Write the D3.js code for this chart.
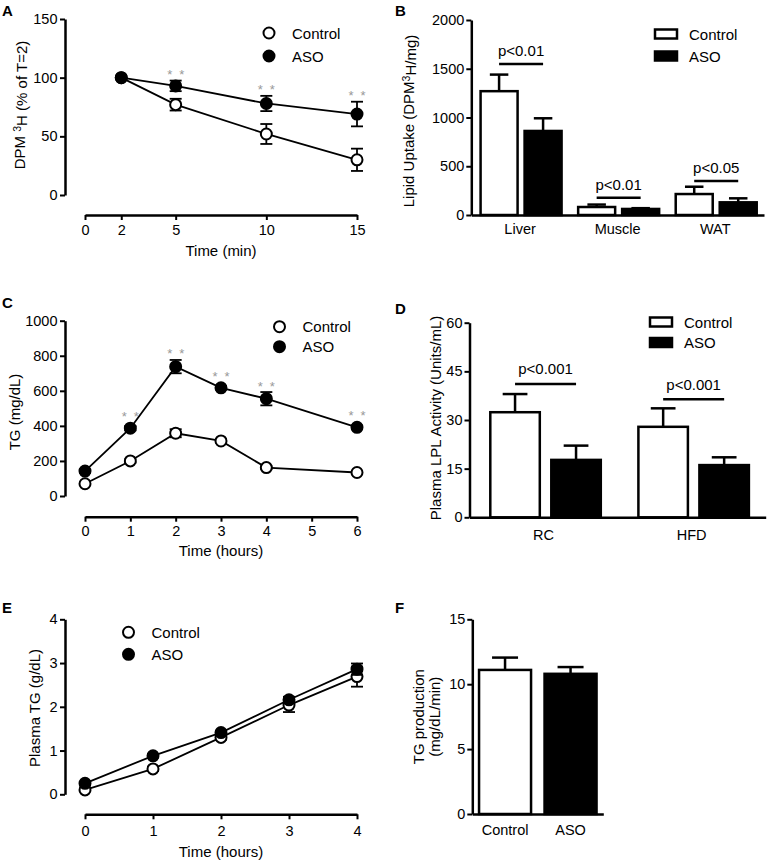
<!DOCTYPE html>
<html><head><meta charset="utf-8">
<script src="https://cdn.jsdelivr.net/npm/d3@7"></script>
<style>
body{margin:0;background:#fff}
svg text{font-family:"Liberation Sans",Arial,Helvetica,sans-serif}
</style>
</head><body>
<svg id="c" width="768" height="862"></svg>
<script>
// ---------- DATA ----------
// Panel A
const aTime = [2, 5, 10, 15];
const aControl = [100, 77, 52, 30];
const aControlErr = [0, 5, 8.5, 9.5];
const aASO = [100, 93, 78, 69];
const aASOErr = [0, 4.5, 6.5, 10.5];
const aStars = [false, true, true, true];
const aXTicks = [0, 2, 5, 10, 15];
const aYTicks = [0, 50, 100, 150];

// Panel B
const bCategories = ["Liver", "Muscle", "WAT"];
const bControl = [1270, 82, 215];
const bControlErr = [170, 25, 75];
const bASO = [862, 62, 130];
const bASOErr = [130, 8, 41];
const bPLabels = ["p<0.01", "p<0.01", "p<0.05"];
const bPLevel = [1550, 178, 350];
const bYTicks = [0, 500, 1000, 1500, 2000];

// Panel C
const cTime = [0, 1, 2, 3, 4, 6];
const cControl = [70, 200, 358, 314, 162, 134];
const cControlErr = [8, 10, 23, 10, 8, 8];
const cASO = [142, 387, 738, 617, 555, 392];
const cASOErr = [10, 12, 38, 10, 38, 10];
const cStars = [false, true, true, true, true, true];
const cXTicks = [0, 1, 2, 3, 4, 5, 6];
const cYTicks = [0, 200, 400, 600, 800, 1000];

// Panel D
const dCategories = ["RC", "HFD"];
const dControl = [32.4, 27.9];
const dControlErr = [5.6, 5.7];
const dASO = [17.7, 16.1];
const dASOErr = [4.4, 2.4];
const dPLabels = ["p<0.001", "p<0.001"];
const dPLevel = [41.1, 36.4];
const dYTicks = [0, 15, 30, 45, 60];

// Panel E
const eTime = [0, 1, 2, 3, 4];
const eControl = [0.10, 0.58, 1.30, 2.04, 2.69];
const eControlErr = [0.03, 0.05, 0.05, 0.16, 0.23];
const eASO = [0.25, 0.88, 1.41, 2.16, 2.86];
const eASOErr = [0.03, 0.04, 0.04, 0.07, 0.13];
const eXTicks = [0, 1, 2, 3, 4];
const eYTicks = [0, 1, 2, 3, 4];

// Panel F
const fCategories = ["Control", "ASO"];
const fValues = [11.1, 10.8];
const fErr = [0.95, 0.52];
const fYTicks = [0, 5, 10, 15];

const seriesNames = ["Control", "ASO"];

// ---------- DRAWING ----------
const svg = d3.select("#c");
const FS = "15px";
const TFS = "14.5px";

function styleAxis(g) {
  g.attr("font-family", null).attr("font-size", null);
  g.selectAll(".domain").attr("stroke", "#000").attr("stroke-width", 2.5);
  g.selectAll(".tick line").attr("stroke", "#000").attr("stroke-width", 2);
  g.selectAll(".tick text").attr("fill", "#000").style("font-size", TFS);
}

function panelLetter(t, x, y) {
  svg.append("text").attr("x", x).attr("y", y).text(t)
    .style("font-size", "15px").style("font-weight", "bold").attr("fill", "#000");
}

function yTitle(parts, cx, cy) {
  const t = svg.append("text").attr("transform", `translate(${cx},${cy}) rotate(-90)`)
    .attr("text-anchor", "middle").attr("dy", "0.35em").style("font-size", FS).attr("fill", "#000");
  parts.forEach(p => {
    if (p.sup) t.append("tspan").text(p.t).attr("dy", "-0.45em").style("font-size", "10.5px");
    else t.append("tspan").text(p.t).attr("dy", p.after ? "0.45em" : null);
  });
  return t;
}

function linePanel(cfg) {
  const x = d3.scaleLinear().domain(cfg.xDomain).range([cfg.xLeft, cfg.xRight]);
  const y = d3.scaleLinear().domain(cfg.yDomain).range([cfg.yBottom, cfg.yTop]);
  const r = 5.5;
  svg.append("g").attr("transform", `translate(${cfg.yAxisX},0)`)
    .call(d3.axisLeft(y).tickValues(cfg.yTicks).tickSize(5).tickSizeOuter(0).tickPadding(2.5).tickFormat(d => String(d)))
    .call(styleAxis);
  svg.append("g").attr("transform", `translate(0,${cfg.xAxisY})`)
    .call(d3.axisBottom(x).tickValues(cfg.xTicks).tickSize(5).tickSizeOuter(0).tickPadding(cfg.xPad).tickFormat(d => String(d)))
    .call(styleAxis);

  const fills = ["#fff", "#000"];
  const line = d3.line().x((d, i) => x(cfg.xs[i])).y(d => y(d));
  cfg.series.forEach(s => {
    svg.append("path").datum(s.vals).attr("d", line)
      .attr("fill", "none").attr("stroke", "#000").attr("stroke-width", 1.8);
  });
  cfg.series.forEach((s, si) => {
    const g = svg.append("g");
    s.vals.forEach((v, i) => {
      const e = s.errs[i];
      if (e > 0) {
        const cx = x(cfg.xs[i]);
        g.append("line").attr("x1", cx).attr("x2", cx).attr("y1", y(v - e)).attr("y2", y(v + e))
          .attr("stroke", "#000").attr("stroke-width", 1.8);
        [v - e, v + e].forEach(yy => g.append("line").attr("x1", cx - 6).attr("x2", cx + 6)
          .attr("y1", y(yy)).attr("y2", y(yy)).attr("stroke", "#000").attr("stroke-width", 1.8));
      }
    });
    g.selectAll("circle").data(s.vals).enter().append("circle")
      .attr("cx", (d, i) => x(cfg.xs[i])).attr("cy", d => y(d)).attr("r", r)
      .attr("fill", fills[si]).attr("stroke", "#000").attr("stroke-width", 2);
  });
  if (cfg.stars) {
    const s = cfg.series[1];
    cfg.stars.forEach((st, i) => {
      if (!st) return;
      const cx = x(cfg.xs[i]);
      const top = Math.min(y(s.vals[i] + s.errs[i]), y(s.vals[i]) - r);
      const cy = top - 9;
      [-6, 6].forEach(dx => svg.append("text").attr("x", cx + dx).attr("y", cy + 7.5)
        .attr("text-anchor", "middle").style("font-size", "13px").attr("fill", "#999").text("*"));
    });
  }
  seriesNames.forEach((n, i) => {
    const ly = cfg.legY + i * cfg.legDy;
    svg.append("circle").attr("cx", cfg.legX).attr("cy", ly).attr("r", r)
      .attr("fill", fills[i]).attr("stroke", "#000").attr("stroke-width", 2);
    svg.append("text").attr("x", cfg.legX + 23).attr("y", ly + 5.5).text(n).style("font-size", FS).attr("fill", "#000");
  });
  svg.append("text").attr("x", (cfg.xLeft + cfg.xRight) / 2).attr("y", cfg.xTitleY)
    .attr("text-anchor", "middle").style("font-size", FS).text(cfg.xTitle);
}

function barPanel(cfg) {
  const x = d3.scaleBand().domain(cfg.categories).range([cfg.xLeft, cfg.xRight]);
  const y = d3.scaleLinear().domain(cfg.yDomain).range([cfg.yBottom, cfg.yTop]);
  svg.append("g").attr("transform", `translate(${cfg.xLeft},0)`)
    .call(d3.axisLeft(y).tickValues(cfg.yTicks).tickSize(5).tickSizeOuter(0).tickPadding(2).tickFormat(d => String(d)))
    .call(styleAxis);
  svg.append("g").attr("transform", `translate(0,${cfg.yBottom})`)
    .call(d3.axisBottom(x).tickSize(0).tickSizeOuter(0).tickPadding(cfg.xPad))
    .call(styleAxis);

  const w = cfg.barW, gap = cfg.gap;
  const bars = [];
  cfg.categories.forEach((c, ci) => {
    const center = x(c) + x.bandwidth() / 2 + (cfg.shift || 0);
    const n = cfg.series.length;
    cfg.series.forEach((s, si) => {
      const left = n === 1 ? center - w / 2 : (si === 0 ? center - gap / 2 - w : center + gap / 2);
      bars.push({ left, v: s.vals[ci], e: s.errs[ci], fill: s.fill ? s.fill : (cfg.fills ? cfg.fills[ci] : "#fff"), ci, si });
    });
  });
  bars.forEach(b => {
    const cx = b.left + w / 2;
    const cw = w * 0.5;
    svg.append("line").attr("x1", cx).attr("x2", cx).attr("y1", y(b.v)).attr("y2", y(b.v + b.e))
      .attr("stroke", "#000").attr("stroke-width", 2.5);
    svg.append("line").attr("x1", cx - cw / 2).attr("x2", cx + cw / 2).attr("y1", y(b.v + b.e)).attr("y2", y(b.v + b.e))
      .attr("stroke", "#000").attr("stroke-width", 2.5);
    svg.append("rect").attr("x", b.left).attr("width", w).attr("y", y(b.v)).attr("height", y(0) - y(b.v))
      .attr("fill", b.fill).attr("stroke", "#000").attr("stroke-width", 2.5);
  });
  if (cfg.pLabels) {
    cfg.categories.forEach((c, ci) => {
      const bs = bars.filter(b => b.ci === ci);
      const x1 = bs[0].left + w / 2, x2 = bs[1].left + w / 2;
      const ly = y(cfg.pLevel[ci]);
      svg.append("line").attr("x1", x1).attr("x2", x2).attr("y1", ly).attr("y2", ly)
        .attr("stroke", "#000").attr("stroke-width", 2.5);
      svg.append("text").attr("x", (x1 + x2) / 2).attr("y", ly - cfg.pOff).attr("text-anchor", "middle")
        .style("font-size", FS).text(cfg.pLabels[ci]);
    });
  }
  if (cfg.legX) {
    seriesNames.forEach((n, i) => {
      const ly = cfg.legY + i * cfg.legDy;
      svg.append("rect").attr("x", cfg.legX).attr("y", ly - 4.5).attr("width", 22).attr("height", 9)
        .attr("fill", cfg.series[i].fill).attr("stroke", "#000").attr("stroke-width", 2.5);
      svg.append("text").attr("x", cfg.legX + 34).attr("y", ly + 5.5).text(n).style("font-size", FS);
    });
  }
}

// Panel A
linePanel({
  xs: aTime, xDomain: [0, 15], xLeft: 85, xRight: 357, xTicks: aXTicks, xAxisY: 215, xPad: 4.5,
  yDomain: [0, 150], yBottom: 195, yTop: 19, yTicks: aYTicks, yAxisX: 65,
  series: [{ vals: aControl, errs: aControlErr }, { vals: aASO, errs: aASOErr }],
  stars: aStars, legX: 269, legY: 33, legDy: 23, xTitle: "Time (min)", xTitleY: 255.5
});
panelLetter("A", 2, 16);
yTitle([{ t: "DPM " }, { t: "3", sup: true }, { t: "H (% of T=2)", after: true }], 20, 105);

// Panel B
barPanel({
  categories: bCategories, xLeft: 471.3, xRight: 764, yDomain: [0, 2000], yBottom: 215, yTop: 20, yTicks: bYTicks,
  barW: 37, gap: 7, shift: 1, xPad: 9,
  series: [{ vals: bControl, errs: bControlErr, fill: "#fff" }, { vals: bASO, errs: bASOErr, fill: "#000" }],
  pLabels: bPLabels, pLevel: bPLevel, pOff: 7.5, legX: 655, legY: 34, legDy: 22
});
panelLetter("B", 395, 16);
yTitle([{ t: "Lipid Uptake (DPM" }, { t: "3", sup: true }, { t: "H/mg)", after: true }], 409, 121);

// Panel C
linePanel({
  xs: cTime, xDomain: [0, 6], xLeft: 85, xRight: 357, xTicks: cXTicks, xAxisY: 516.7, xPad: 4.5,
  yDomain: [0, 1000], yBottom: 496, yTop: 320.7, yTicks: cYTicks, yAxisX: 65,
  series: [{ vals: cControl, errs: cControlErr }, { vals: cASO, errs: cASOErr }],
  stars: cStars, legX: 279.5, legY: 326.7, legDy: 20, xTitle: "Time (hours)", xTitleY: 555.5
});
panelLetter("C", 2, 308);
yTitle([{ t: "TG (mg/dL)" }], 15, 412);

// Panel D
barPanel({
  categories: dCategories, xLeft: 469.5, xRight: 765.7, yDomain: [0, 60], yBottom: 517.3, yTop: 322.7, yTicks: dYTicks,
  barW: 49.5, gap: 11.5, shift: 2, xPad: 12,
  series: [{ vals: dControl, errs: dControlErr, fill: "#fff" }, { vals: dASO, errs: dASOErr, fill: "#000" }],
  pLabels: dPLabels, pLevel: dPLevel, pOff: 9.5, legX: 650, legY: 322, legDy: 20.5
});
panelLetter("D", 395, 314);
yTitle([{ t: "Plasma LPL Activity (Units/mL)" }], 436, 418);

// Panel E
linePanel({
  xs: eTime, xDomain: [0, 4], xLeft: 85, xRight: 357, xTicks: eXTicks, xAxisY: 814.3, xPad: 6.5,
  yDomain: [0, 4], yBottom: 794.3, yTop: 619.3, yTicks: eYTicks, yAxisX: 65,
  series: [{ vals: eControl, errs: eControlErr }, { vals: eASO, errs: eASOErr }],
  stars: null, legX: 128.5, legY: 632.3, legDy: 22, xTitle: "Time (hours)", xTitleY: 857
});
panelLetter("E", 2, 613);
yTitle([{ t: "Plasma TG (g/dL)" }], 35, 708);

// Panel F
barPanel({
  categories: fCategories, xLeft: 472.3, xRight: 603.3, yDomain: [0, 15], yBottom: 814, yTop: 619.3, yTicks: fYTicks,
  barW: 52, gap: 0, shift: 0, xPad: 10.5,
  series: [{ vals: fValues, errs: fErr }], fills: ["#fff", "#000"]
});
panelLetter("F", 395, 613);
svg.append("text").attr("transform", "translate(419,716.7) rotate(-90)").attr("text-anchor", "middle")
  .attr("dy", "0.35em").style("font-size", FS).text("TG production");
svg.append("text").attr("transform", "translate(434.5,716.7) rotate(-90)").attr("text-anchor", "middle")
  .attr("dy", "0.35em").style("font-size", FS).text("(mg/dL/min)");
</script>
</body></html>
